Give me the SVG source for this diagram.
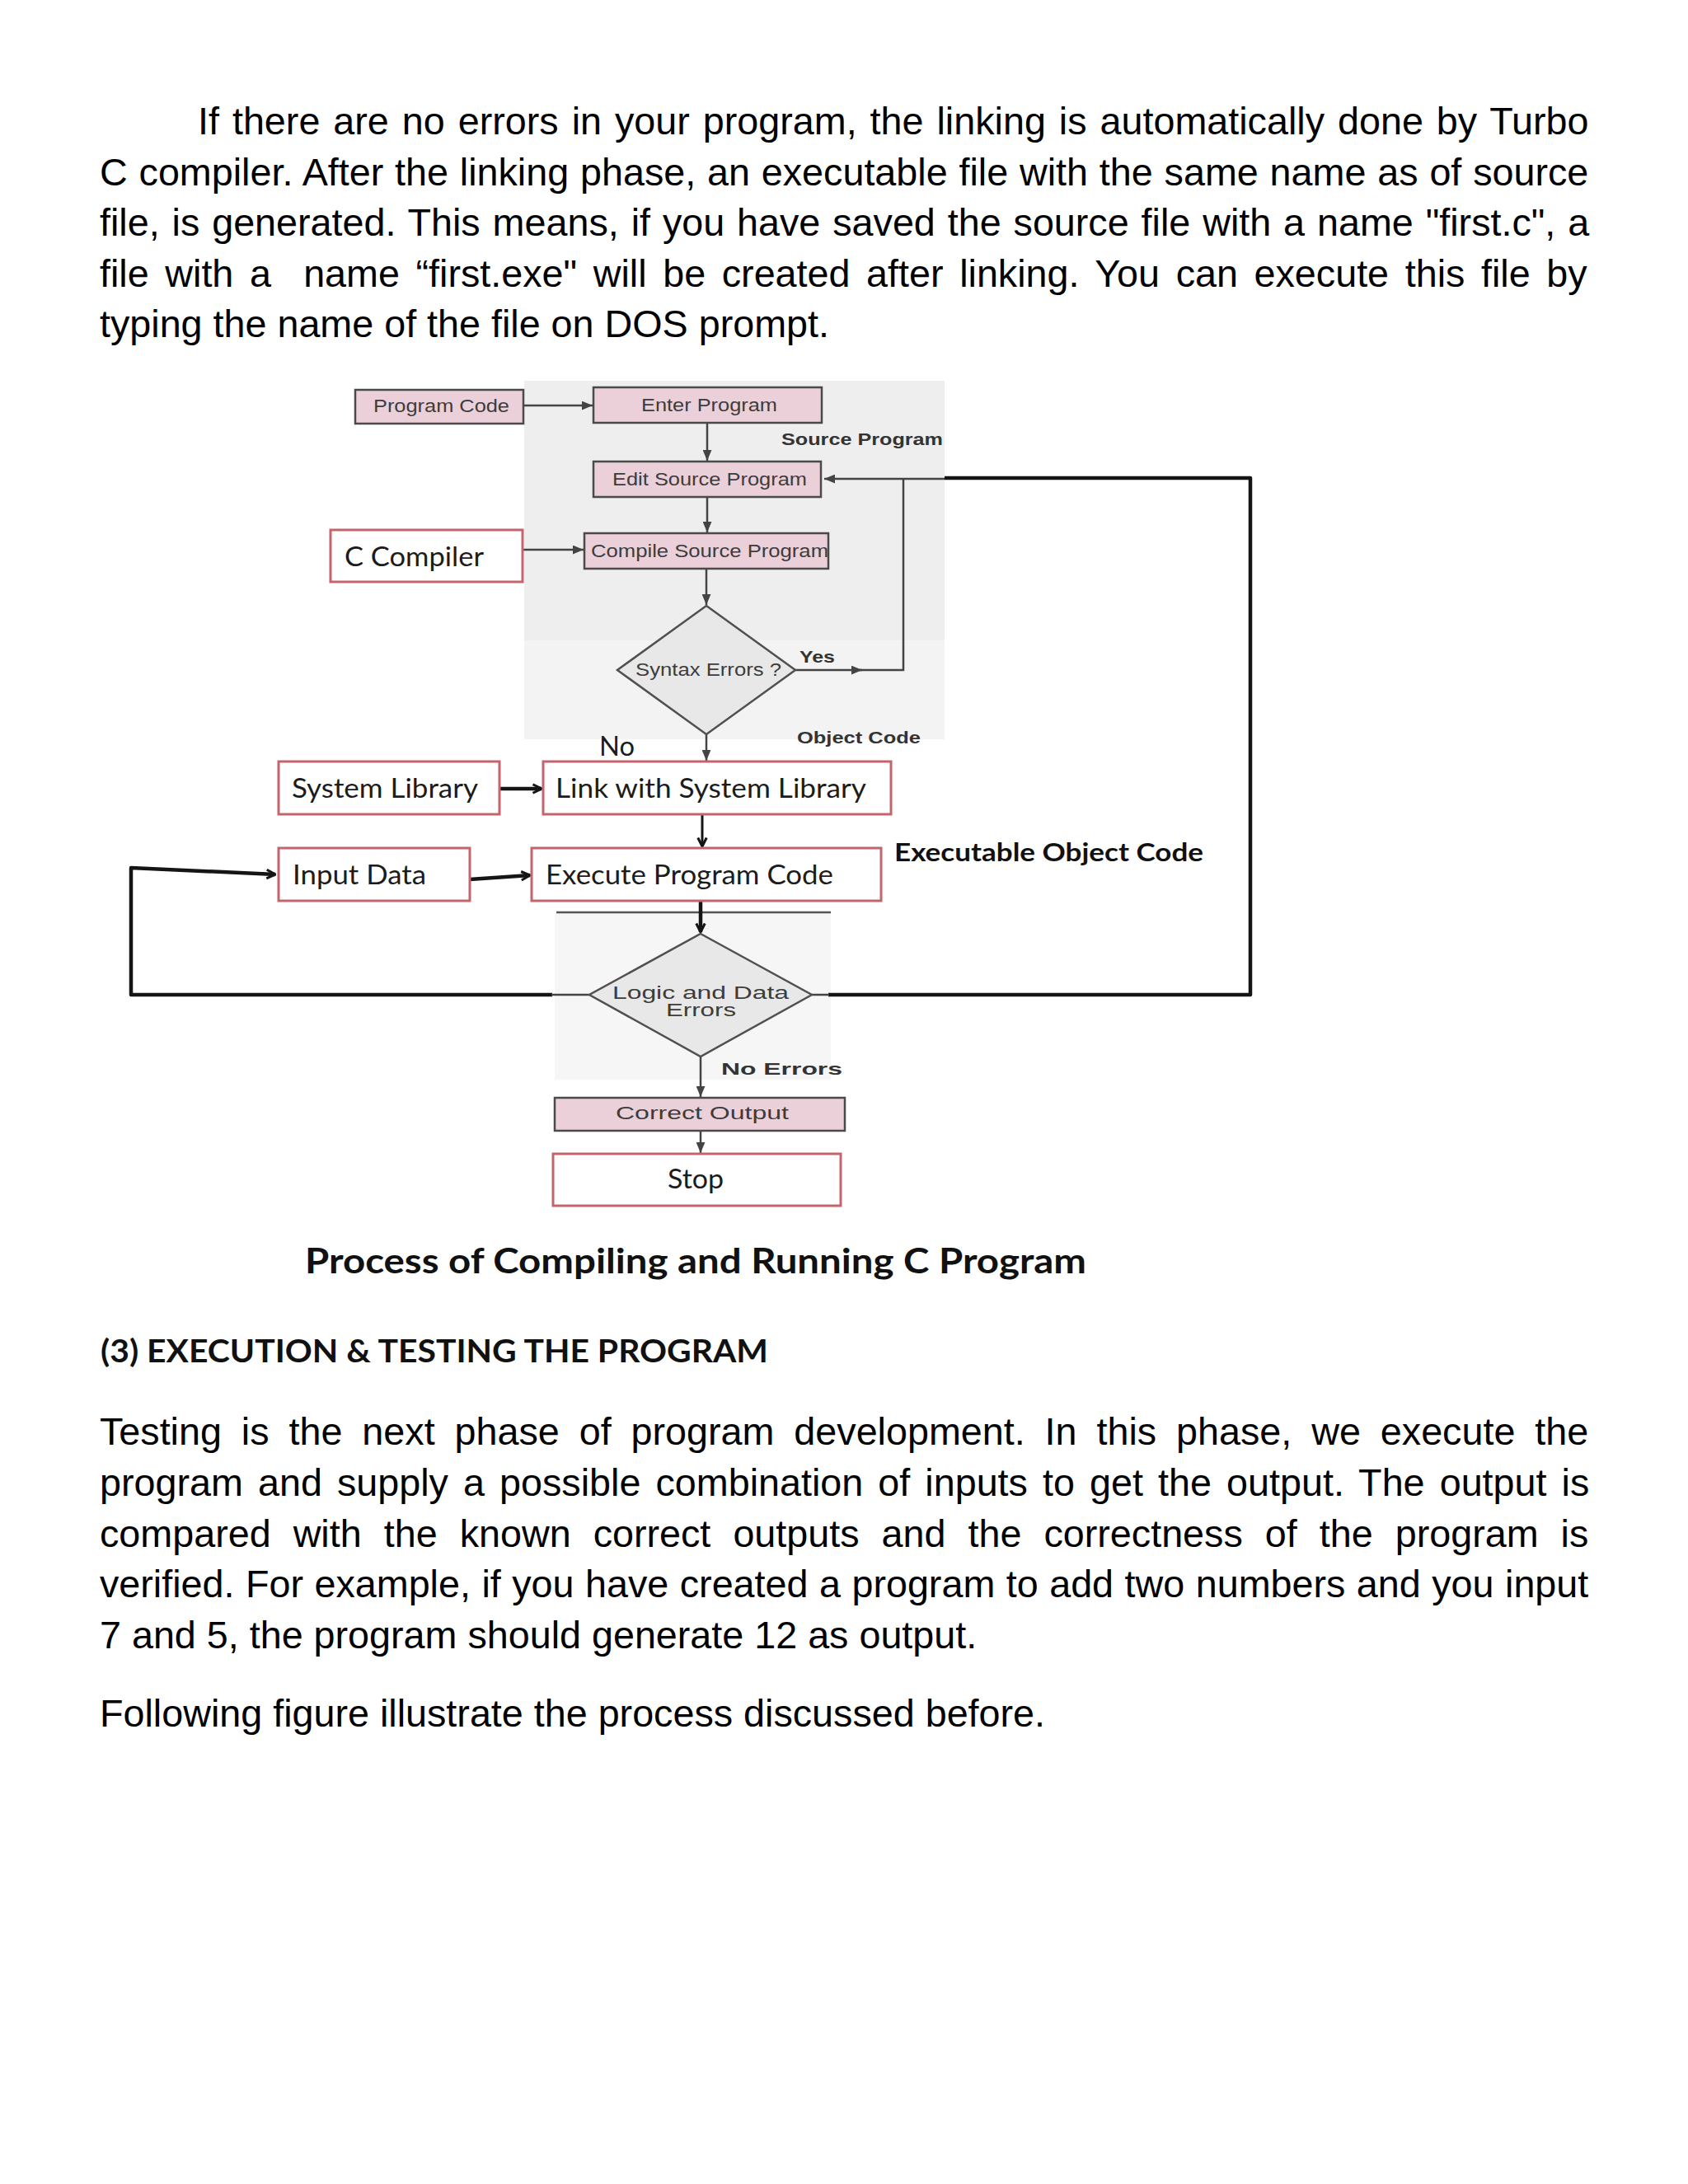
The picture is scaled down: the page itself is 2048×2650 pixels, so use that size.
<svg xmlns="http://www.w3.org/2000/svg" width="2048" height="2650" viewBox="0 0 2048 2650">
<style>
.body{font-family:"Liberation Sans",Arial,sans-serif;font-size:46.7px;fill:#000}
.cal{font-family:Lato,"Open Sans",sans-serif;font-size:32px;fill:#1c1c1c}
.calb{font-family:Lato,"Open Sans",sans-serif;font-weight:bold;fill:#111}
.scan{font-family:"Liberation Sans",Arial,sans-serif;font-size:22px;fill:#3c3c3c}
.scanb{font-family:"Liberation Sans",Arial,sans-serif;font-size:21px;font-weight:bold;fill:#333}
.pink{fill:#ebd0da;stroke:#4a4a4a;stroke-width:2.5}
.wbox{fill:#fff;stroke:#c4646d;stroke-width:3}
.dia{fill:#e8e8e8;stroke:#505050;stroke-width:2.5}
.ln{fill:none;stroke:#444;stroke-width:2.5}
.blk{fill:none;stroke:#151515;stroke-width:3}
.thick{fill:none;stroke:#151515;stroke-width:4.5;stroke-linejoin:round}
</style>
<defs>
<marker id="tri" viewBox="0 0 12 10" refX="12" refY="5" markerWidth="13" markerHeight="11" markerUnits="userSpaceOnUse" orient="auto">
<path d="M0,0 L12,5 L0,10 z" fill="#444"/>
</marker>
<marker id="chev" viewBox="0 0 12 12" refX="11" refY="6" markerWidth="14" markerHeight="14" markerUnits="userSpaceOnUse" orient="auto">
<path d="M2,1.5 L11,6 L2,10.5" fill="none" stroke="#151515" stroke-width="2.6" stroke-linejoin="miter"/>
</marker>
</defs>
<rect width="2048" height="2650" fill="#ffffff"/>

<g id="paragraph1" class="body">
<text x="240" y="163" word-spacing="3.02">If there are no errors in your program, the linking is automatically done by Turbo</text>
<text x="121" y="224.5" word-spacing="0.87">C compiler. After the linking phase, an executable file with the same name as of source</text>
<text x="121" y="286" word-spacing="1.94">file, is generated. This means, if you have saved the source file with a name "first.c", a</text>
<text x="121" y="347.5" word-spacing="6.65" xml:space="preserve">file with a  name “first.exe" will be created after linking. You can execute this file by</text>
<text x="121" y="409">typing the name of the file on DOS prompt.</text>
</g>

<g id="backgrounds">
<rect x="636" y="462" width="510" height="315" fill="#eeeeee"/>
<rect x="636" y="777" width="510" height="120" fill="#f3f3f3"/>
<rect x="673" y="1108" width="335" height="202" fill="#f6f6f6"/>
</g>

<g id="connectors">
<line class="ln" x1="635" y1="492" x2="719" y2="492" marker-end="url(#tri)"/>
<line class="ln" x1="858" y1="513" x2="858" y2="559" marker-end="url(#tri)"/>
<line class="ln" x1="858" y1="603" x2="858" y2="646" marker-end="url(#tri)"/>
<line class="ln" x1="634" y1="667" x2="708" y2="667" marker-end="url(#tri)"/>
<line class="ln" x1="857" y1="690" x2="857" y2="734" marker-end="url(#tri)"/>
<line class="ln" x1="965" y1="813" x2="1046" y2="813" marker-end="url(#tri)"/>
<polyline class="ln" points="1040,813 1096,813 1096,581"/>
<line class="ln" x1="1146" y1="581" x2="1000" y2="581" marker-end="url(#tri)"/>
<line class="ln" x1="857" y1="891" x2="857" y2="923" marker-end="url(#tri)"/>
<polyline class="thick" points="1005,1207 1517,1207 1517,580 1146,580"/>
<line class="ln" x1="985" y1="1207" x2="1006" y2="1207"/>
<polyline class="thick" points="670,1207 159,1207 159,1053 334,1061" marker-end="url(#chev)"/>
<line class="ln" x1="669" y1="1207" x2="715" y2="1207"/>
<line class="thick" x1="606" y1="957" x2="657" y2="957" marker-end="url(#chev)"/>
<line class="blk" x1="852" y1="988" x2="852" y2="1027" marker-end="url(#chev)"/>
<line class="thick" x1="570" y1="1067" x2="643" y2="1062" marker-end="url(#chev)"/>
<line x1="675" y1="1107" x2="1008" y2="1107" stroke="#555" stroke-width="2.5"/>
<line class="thick" x1="850" y1="1093" x2="850" y2="1131" marker-end="url(#chev)"/>
<line class="ln" x1="850" y1="1282" x2="850" y2="1331" marker-end="url(#tri)"/>
<line class="ln" x1="850" y1="1372" x2="850" y2="1399" marker-end="url(#tri)"/>
</g>

<g id="node-program-code">
<rect class="pink" x="431" y="473" width="204" height="41"/>
<text class="scan" x="453" y="500" textLength="165" lengthAdjust="spacingAndGlyphs">Program Code</text>
</g>
<g id="node-enter-program">
<rect class="pink" x="720" y="470" width="277" height="43"/>
<text class="scan" x="778" y="499" textLength="165" lengthAdjust="spacingAndGlyphs">Enter Program</text>
</g>
<g id="label-source-program">
<text class="scanb" x="948" y="540" textLength="196" lengthAdjust="spacingAndGlyphs">Source Program</text>
</g>
<g id="node-edit-source">
<rect class="pink" x="720" y="560" width="276" height="43"/>
<text class="scan" x="743" y="589" textLength="236" lengthAdjust="spacingAndGlyphs">Edit Source Program</text>
</g>
<g id="node-c-compiler">
<rect class="wbox" x="401" y="643" width="233" height="63"/>
<text class="cal" x="418" y="687" textLength="169" lengthAdjust="spacingAndGlyphs">C Compiler</text>
</g>
<g id="node-compile">
<rect class="pink" x="709" y="647" width="296" height="43"/>
<text class="scan" x="717" y="676" textLength="288" lengthAdjust="spacingAndGlyphs">Compile Source Program</text>
</g>
<g id="node-syntax-errors">
<polygon class="dia" points="857,735 965,813 857,891 749,813"/>
<text class="scan" x="771" y="820" textLength="177" lengthAdjust="spacingAndGlyphs">Syntax Errors ?</text>
</g>
<g id="label-yes">
<text class="scanb" x="970" y="804" textLength="43" lengthAdjust="spacingAndGlyphs">Yes</text>
</g>
<g id="label-object-code">
<text class="scanb" x="967" y="902" textLength="150" lengthAdjust="spacingAndGlyphs">Object Code</text>
</g>
<g id="label-no">
<text class="cal" x="727" y="917" textLength="43" lengthAdjust="spacingAndGlyphs">No</text>
</g>
<g id="node-system-library">
<rect class="wbox" x="338" y="924" width="268" height="64"/>
<text class="cal" x="354" y="968" textLength="226" lengthAdjust="spacingAndGlyphs">System Library</text>
</g>
<g id="node-link">
<rect class="wbox" x="659" y="924" width="422" height="64"/>
<text class="cal" x="674" y="968" textLength="377" lengthAdjust="spacingAndGlyphs">Link with System Library</text>
</g>
<g id="node-input-data">
<rect class="wbox" x="338" y="1029" width="232" height="64"/>
<text class="cal" x="355" y="1073" textLength="162" lengthAdjust="spacingAndGlyphs">Input Data</text>
</g>
<g id="node-execute">
<rect class="wbox" x="645" y="1029" width="424" height="64"/>
<text class="cal" x="662" y="1073" textLength="349" lengthAdjust="spacingAndGlyphs">Execute Program Code</text>
</g>
<g id="label-executable">
<text class="calb" x="1085" y="1045" font-size="31" textLength="375" lengthAdjust="spacingAndGlyphs">Executable Object Code</text>
</g>
<g id="node-logic-errors">
<polygon class="dia" points="850,1133 985,1207 850,1282 715,1207"/>
<text class="scan" x="743" y="1212" font-size="20" textLength="214" lengthAdjust="spacingAndGlyphs">Logic and Data</text>
<text class="scan" x="808" y="1233" font-size="20" textLength="85" lengthAdjust="spacingAndGlyphs">Errors</text>
</g>
<g id="label-no-errors">
<text class="scanb" x="875" y="1304" textLength="147" lengthAdjust="spacingAndGlyphs">No Errors</text>
</g>
<g id="node-correct-output">
<rect class="pink" x="673" y="1332" width="352" height="40"/>
<text class="scan" x="747" y="1358" textLength="210" lengthAdjust="spacingAndGlyphs">Correct Output</text>
</g>
<g id="node-stop">
<rect class="wbox" x="671" y="1400" width="349" height="63"/>
<text class="cal" x="810" y="1442" textLength="68" lengthAdjust="spacingAndGlyphs">Stop</text>
</g>

<g id="caption">
<text class="calb" x="370" y="1545" font-size="42" textLength="948" lengthAdjust="spacingAndGlyphs">Process of Compiling and Running C Program</text>
</g>
<g id="heading">
<text class="calb" x="122" y="1653" font-size="39" textLength="810" lengthAdjust="spacingAndGlyphs">(3) EXECUTION &amp; TESTING THE PROGRAM</text>
</g>

<g id="paragraph2" class="body">
<text x="121" y="1753" word-spacing="10.97">Testing is the next phase of program development. In this phase, we execute the</text>
<text x="121" y="1815" word-spacing="5.13">program and supply a possible combination of inputs to get the output. The output is</text>
<text x="121" y="1877" word-spacing="14.07">compared with the known correct outputs and the correctness of the program is</text>
<text x="121" y="1938" word-spacing="0.52">verified. For example, if you have created a program to add two numbers and you input</text>
<text x="121" y="2000">7 and 5, the program should generate 12 as output.</text>
<text x="121" y="2095">Following figure illustrate the process discussed before.</text>
</g>
</svg>
